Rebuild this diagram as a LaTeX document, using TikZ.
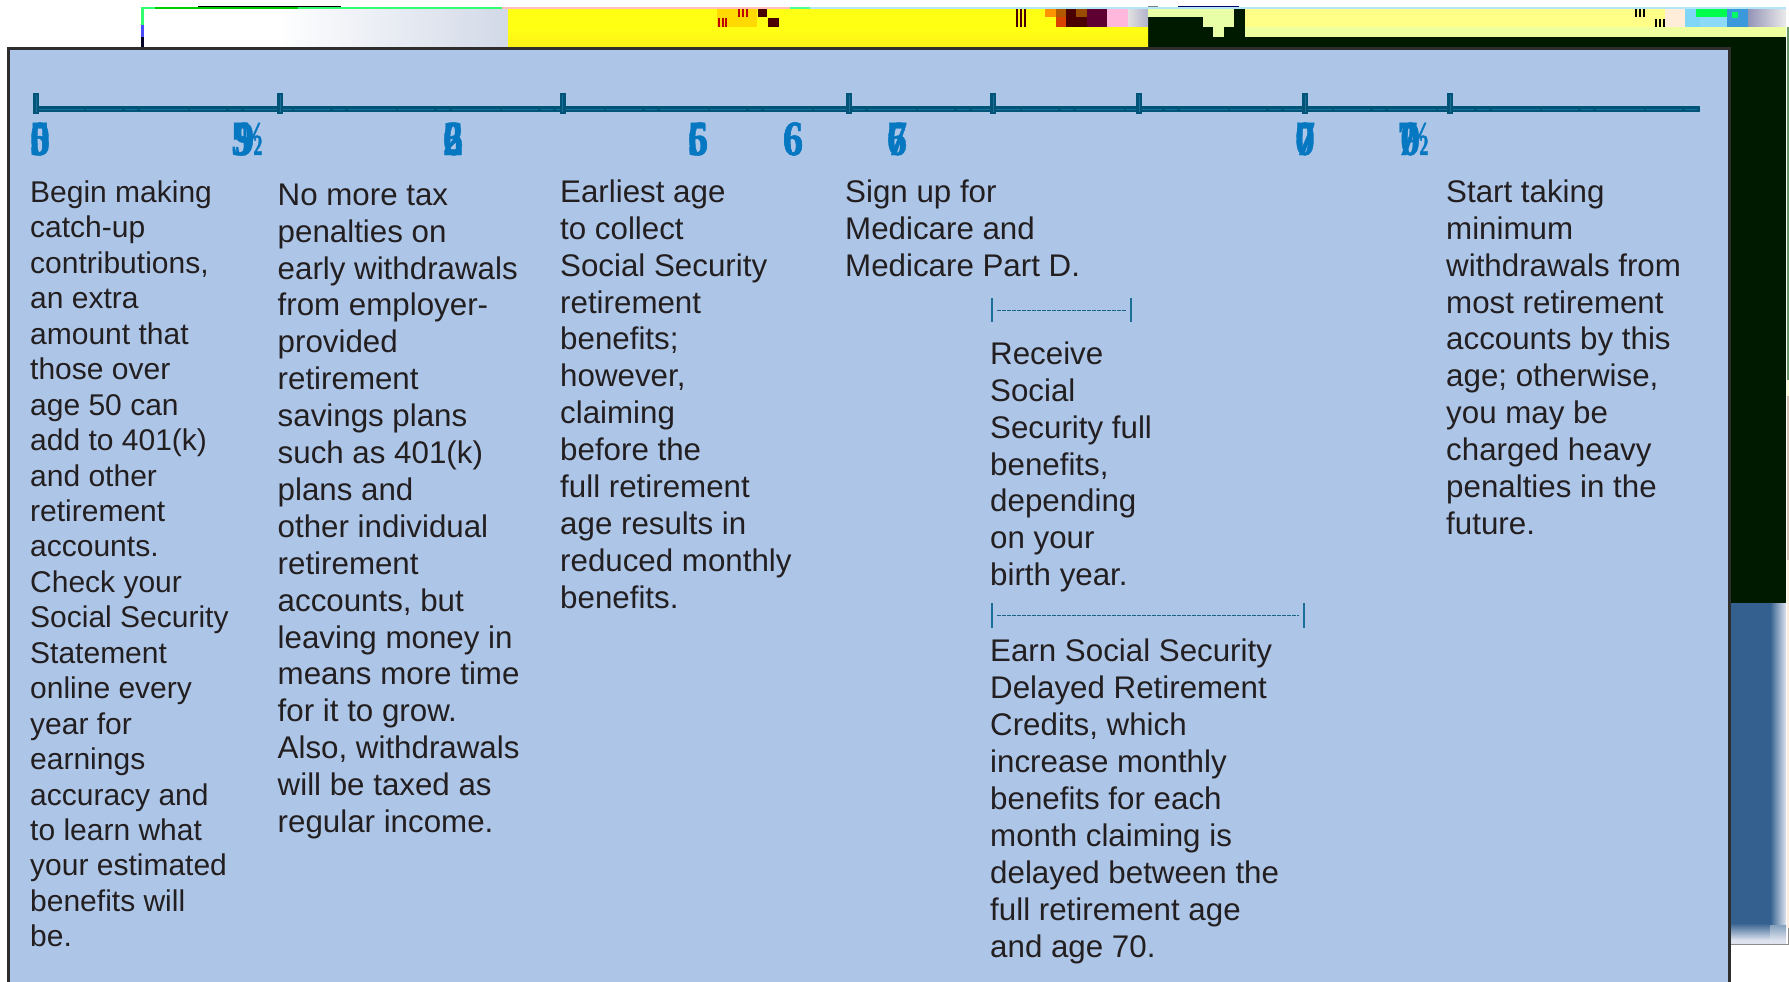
\documentclass[tikz,border=0pt]{standalone}
\usepackage{fontspec}
\setmainfont{Liberation Sans}
\newfontfamily\agefont[FakeStretch=0.82,FakeBold=0.8]{Liberation Serif Bold}
\newcommand{\ovr}[2]{\makebox[0pt][l]{#1}#2}
\newcommand{\ovrhalf}[2]{\makebox[0pt][l]{#1}\kern3pt #2\kern-14pt\scalebox{0.75}[1]{½}}
\newcommand{\blk}[5]{\fill[#1] (#2,#3) rectangle (#4,#5);}
\definecolor{panelblue}{HTML}{ADC5E7}
\definecolor{rulerdark}{HTML}{005478}
\definecolor{rulerlight}{HTML}{1C6F96}
\definecolor{agecol}{HTML}{0677C1}
\definecolor{ink}{HTML}{231F20}
\definecolor{darkgr}{HTML}{001A00}
\definecolor{deepblue}{HTML}{33608F}
\definecolor{maroon}{HTML}{4A0000}
\definecolor{yelA}{HTML}{FFFF14}
\definecolor{yelB}{HTML}{FFF018}
\definecolor{paleA}{HTML}{E8FFA8}
\definecolor{paleB}{HTML}{FFFF88}
\definecolor{paleC}{HTML}{EEFFA0}
\definecolor{fadeG}{HTML}{D2D9E7}
\definecolor{fadeL}{HTML}{DDE2EE}
\tikzset{
  body/.style={anchor=north west,inner sep=0pt,align=left,text=ink,font=\fontsize{31.3}{36.9}\selectfont},
  bodyone/.style={anchor=north west,inner sep=0pt,align=left,text=ink,font=\fontsize{30}{35.45}\selectfont},
  age/.style={anchor=base,inner sep=0pt,text=agecol,font=\agefont\fontsize{49}{49}\selectfont},
  agew/.style={age,anchor=base west},
  tickmark/.style={line width=6pt,rulerdark},
  tickcore/.style={line width=1pt,rulerlight},
  barline/.style={line width=1.8pt,color=rulerlight},
  bardash/.style={line width=1.1pt,color=rulerlight!90!black,dash pattern=on 4pt off 1pt},
}
\begin{document}
\begin{tikzpicture}[x=1pt,y=-1pt]
\useasboundingbox (0,0) rectangle (1789,982);
\fill[white] (0,0) rectangle (1789,982);
% --- top strip
\fill[left color=white,right color=fadeG] (275,9) rectangle (508,49);
\blk{darkgr}{1148}{17}{1786}{603}
\fill[top color=yelA,bottom color=yelB] (508,28) rectangle (1148,49);
\fill[yelA] (508,9) rectangle (1148,28);
\blk{orange!30!yellow}{717}{9}{757}{27}
\foreach \x in {718,722,725}{\blk{red!75!black}{\x}{18}{\x+2.4}{27}}
\foreach \x in {738,742,746}{\blk{red!75!black}{\x}{9}{\x+2}{17}}
\blk{maroon}{758}{9}{767}{17}
\blk{maroon}{768}{18}{779}{27}
\foreach \x in {1016,1020,1024}{\blk{maroon}{\x}{9}{\x+1.6}{27}}
\blk{orange!85!yellow}{1045}{9}{1056}{17}
\blk{orange!70!black}{1056}{9}{1066}{17}
\blk{orange!60!red!85!black}{1056}{17}{1066}{27}
\blk{maroon}{1066}{9}{1087}{27}
\blk{orange!60!black}{1076}{9}{1087}{17}
\blk{violet!40!maroon}{1087}{9}{1107}{27}
\blk{pink!80!magenta!70!white}{1107}{9}{1128}{27}
\fill[left color=black!12,right color=blue!20!gray!50] (1128,9) rectangle (1148,27);
% pale staircase
\blk{paleA}{1148}{9}{1203}{17}
\blk{paleA}{1203}{9}{1213}{27}
\blk{paleA}{1213}{9}{1224}{37}
\blk{paleA}{1224}{9}{1234}{27}
\blk{darkgr}{1234}{9}{1245}{37}
\blk{paleB}{1245}{9}{1786}{27}
\blk{paleC}{1245}{27}{1786}{37}
\foreach \x in {1635,1639,1643}{\blk{black}{\x}{9}{\x+2}{17}}
\foreach \x in {1655,1659,1663}{\blk{black}{\x}{19}{\x+2}{27}}
\blk{orange!15!white}{1665}{9}{1685}{27}
\blk{cyan!50}{1685}{9}{1700}{27}
\blk{green!70!cyan}{1696}{9}{1727}{17}
\blk{cyan!45}{1700}{17}{1727}{27}
\blk{cyan!70!blue!80}{1727}{9}{1748}{27}
\blk{green!60!cyan}{1732}{12}{1738}{18}
\fill[left color=blue!20!gray!70,right color=black!8] (1748,9) rectangle (1786,27);
% top hairlines
\blk{green!70!cyan!80}{141}{7.5}{502}{9.2}
\blk{green!80!black}{155}{7.5}{298}{9.2}
\blk{black}{198}{6}{341}{7.5}
\blk{pink}{502}{7.5}{790}{9.2}
\blk{green!60!cyan!70}{790}{7.5}{810}{9.2}
\blk{cyan!30}{810}{7.5}{1786}{9.2}
\blk{black!50}{1148}{6}{1158}{7.5}
\blk{blue!40!black}{1178}{6}{1239}{7.5}
\blk{green!70!cyan!80}{141}{7}{143.5}{25}
\blk{blue!70}{141}{25}{143.5}{37}
\blk{black!85!blue}{141}{37}{143.5}{49}
% --- right margin
\blk{deepblue}{1731}{603}{1770}{925}
\fill[left color=deepblue,right color=fadeL] (1770,603) rectangle (1786,925);
\fill[top color=deepblue,bottom color=fadeL] (1731,923) rectangle (1770,940);
\fill[top color=deepblue!60!white,bottom color=fadeL] (1770,925) rectangle (1786,940);
\blk{fadeL}{1731}{940}{1786}{944}
\blk{black!45}{1731}{943.5}{1788.5}{945}
\blk{black!45}{1787.5}{928}{1788.5}{945}
\blk{gray!80!green}{1787}{27}{1789}{380}
\blk{yellow!18}{1787}{380}{1789}{396}
\blk{orange!30!gray!50}{1787}{396}{1789}{560}
\blk{orange!14}{1787}{560}{1789}{928}
% --- panel
\draw[line width=3pt,black!82,fill=panelblue] (8,49) -- (1729,49) -- (1729,990) -- (8,990) -- cycle;
% --- ruler
\coordinate (r0) at (36,109);
\coordinate (rend) at (1700,109);
\draw[line width=6pt,rulerdark] (r0) -- (rend);
\draw[line width=1pt,rulerlight,dash pattern=on 48pt off 2pt on 36pt off 3pt on 12pt off 3pt] (r0) -- (rend);
\foreach \x/\n in {36/a,280/b,562.6/c,849/d,993/e,1139/f,1305/g,1450/h}{
  \coordinate (t\n) at (\x,103.5);
  \draw[tickmark] (\x,93) -- (\x,114);
  \draw[tickcore] (\x,95) -- (\x,112);
}
% --- ages
\node[age] (a50) at (40,155) {\ovr{5}{0}};
\node[agew] (a59) at (231,155) {\ovrhalf{5}{9}};
\node[age] (a62) at (453,155) {\ovr{6}{2}};
\node[age] (a65) at (698,155) {\ovr{6}{5}};
\node[age] (a66) at (793,155) {\ovr{6}{6}};
\node[age] (a67) at (897,155) {\ovr{6}{7}};
\node[age] (a70) at (1305,155) {\ovr{7}{0}};
\node[agew] (a705) at (1397,155) {\ovrhalf{7}{0}};
% --- small brackets
\coordinate (b1l) at (992,310);
\coordinate (b1r) at (1131,310);
\draw[barline] (992,298) -- (992,322);
\draw[barline] (1131,298) -- (1131,322);
\draw[bardash] (997,310.5) -- (1126,310.5);
\coordinate (b2l) at (992,615);
\coordinate (b2r) at (1304,615);
\draw[barline] (992,603) -- (992,628);
\draw[barline] (1304,603) -- (1304,628);
\draw[bardash] (997,615.5) -- (1299,615.5);
% --- text
\node[bodyone] (c1) at (30,180.5) {Begin making\\catch-up\\contributions,\\an extra\\amount that\\those over\\age 50 can\\add to 401(k)\\and other\\retirement\\accounts.\\Check your\\Social Security\\Statement\\online every\\year for\\earnings\\accuracy and\\to learn what\\your estimated\\benefits will\\be.};
\node[body] (c2) at (277.5,183.5) {No more tax\\penalties on\\early withdrawals\\from employer-\\provided\\retirement\\savings plans\\such as 401(k)\\plans and\\other individual\\retirement\\accounts, but\\leaving money in\\means more time\\for it to grow.\\Also, withdrawals\\will be taxed as\\regular income.};
\node[body] (c3) at (560,179.5) {Earliest age\\to collect\\Social Security\\retirement\\benefits;\\however,\\claiming\\before the\\full retirement\\age results in\\reduced monthly\\benefits.};
\node[body] (c4) at (845,179.5) {Sign up for\\Medicare and\\Medicare Part D.};
\node[body] (c5) at (990,341.5) {Receive\\Social\\Security full\\benefits,\\depending\\on your\\birth year.};
\node[body] (c6) at (990,639) {Earn Social Security\\Delayed Retirement\\Credits, which\\increase monthly\\benefits for each\\month claiming is\\delayed between the\\full retirement age\\and age 70.};
\node[body] (c7) at (1446,179.5) {Start taking\\minimum\\withdrawals from\\most retirement\\accounts by this\\age; otherwise,\\you may be\\charged heavy\\penalties in the\\future.};
\end{tikzpicture}
\end{document}
